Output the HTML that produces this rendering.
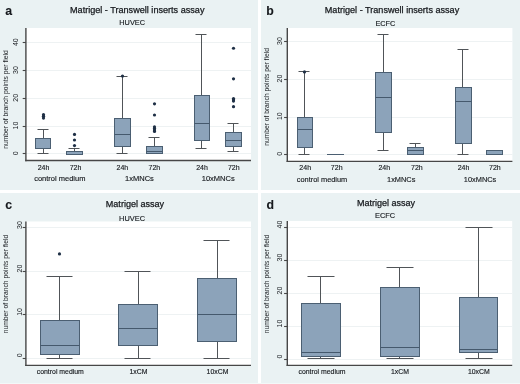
<!DOCTYPE html>
<html><head><meta charset="utf-8"><title>Matrigel assays</title>
<style>
html,body{margin:0;padding:0;background:#fff;}
body{width:520px;height:384px;overflow:hidden;}
svg{display:block;font-family:"Liberation Sans", sans-serif;will-change:transform;}
</style></head>
<body>
<svg width="520" height="384" viewBox="0 0 520 384">
<rect x="0" y="0" width="520" height="384" fill="#fff"/>
<rect x="0" y="0" width="258" height="190" fill="#EAF2F3"/>
<rect x="261" y="0" width="259" height="190" fill="#EAF2F3"/>
<rect x="0" y="193" width="258" height="191" fill="#EAF2F3"/>
<rect x="261" y="193" width="259" height="191" fill="#EAF2F3"/>
<rect x="0" y="383" width="520" height="1" fill="#F3F8F8"/>
<rect x="26" y="28" width="225" height="132.5" fill="#fff"/>
<line x1="26" x2="251" y1="153.5" y2="153.5" stroke="#EEF2F3" stroke-width="1"/>
<line x1="26" x2="251" y1="126.5" y2="126.5" stroke="#EEF2F3" stroke-width="1"/>
<line x1="26" x2="251" y1="98.5" y2="98.5" stroke="#EEF2F3" stroke-width="1"/>
<line x1="26" x2="251" y1="70.5" y2="70.5" stroke="#EEF2F3" stroke-width="1"/>
<line x1="26" x2="251" y1="42.5" y2="42.5" stroke="#EEF2F3" stroke-width="1"/>
<line x1="43.5" x2="43.5" y1="138.5" y2="129.5" stroke="#505458" stroke-width="1"/>
<line x1="37.5" x2="48.5" y1="129.5" y2="129.5" stroke="#505458" stroke-width="1"/>
<line x1="43.5" x2="43.5" y1="148.5" y2="153.5" stroke="#505458" stroke-width="1"/>
<line x1="37.5" x2="48.5" y1="153.5" y2="153.5" stroke="#505458" stroke-width="1"/>
<rect x="35.5" y="138.5" width="15.0" height="10.0" fill="#8CA3BA" stroke="#4B5F72" stroke-width="1"/>
<circle cx="43.5" cy="118.04" r="1.6" fill="#1E2F45"/>
<circle cx="43.5" cy="116.37" r="1.6" fill="#1E2F45"/>
<circle cx="43.5" cy="114.70" r="1.6" fill="#1E2F45"/>
<line x1="74.5" x2="74.5" y1="151.5" y2="148.5" stroke="#505458" stroke-width="1"/>
<line x1="68.5" x2="79.5" y1="148.5" y2="148.5" stroke="#505458" stroke-width="1"/>
<rect x="66.5" y="151.5" width="16.0" height="3.0" fill="#8CA3BA" stroke="#4B5F72" stroke-width="1"/>
<circle cx="74.5" cy="145.56" r="1.6" fill="#1E2F45"/>
<circle cx="74.5" cy="140.00" r="1.6" fill="#1E2F45"/>
<circle cx="74.5" cy="134.44" r="1.6" fill="#1E2F45"/>
<line x1="122.5" x2="122.5" y1="118.5" y2="76.5" stroke="#505458" stroke-width="1"/>
<line x1="116.5" x2="127.5" y1="76.5" y2="76.5" stroke="#505458" stroke-width="1"/>
<line x1="122.5" x2="122.5" y1="146.5" y2="153.5" stroke="#505458" stroke-width="1"/>
<line x1="116.5" x2="127.5" y1="153.5" y2="153.5" stroke="#505458" stroke-width="1"/>
<rect x="114.5" y="118.5" width="16.0" height="28.0" fill="#8CA3BA" stroke="#4B5F72" stroke-width="1"/>
<line x1="114.5" x2="130.5" y1="134.5" y2="134.5" stroke="#45596D" stroke-width="1"/>
<circle cx="122.5" cy="76.06" r="1.6" fill="#1E2F45"/>
<line x1="154.5" x2="154.5" y1="146.5" y2="137.5" stroke="#505458" stroke-width="1"/>
<line x1="148.5" x2="159.5" y1="137.5" y2="137.5" stroke="#505458" stroke-width="1"/>
<rect x="146.5" y="146.5" width="16.0" height="7.0" fill="#8CA3BA" stroke="#4B5F72" stroke-width="1"/>
<line x1="146.5" x2="162.5" y1="151.5" y2="151.5" stroke="#45596D" stroke-width="1"/>
<circle cx="154.5" cy="131.38" r="1.6" fill="#1E2F45"/>
<circle cx="154.5" cy="129.99" r="1.6" fill="#1E2F45"/>
<circle cx="154.5" cy="128.60" r="1.6" fill="#1E2F45"/>
<circle cx="154.5" cy="126.93" r="1.6" fill="#1E2F45"/>
<circle cx="154.5" cy="114.98" r="1.6" fill="#1E2F45"/>
<circle cx="154.5" cy="103.86" r="1.6" fill="#1E2F45"/>
<line x1="201.5" x2="201.5" y1="95.5" y2="34.5" stroke="#505458" stroke-width="1"/>
<line x1="195.5" x2="206.5" y1="34.5" y2="34.5" stroke="#505458" stroke-width="1"/>
<line x1="201.5" x2="201.5" y1="140.5" y2="148.5" stroke="#505458" stroke-width="1"/>
<line x1="195.5" x2="206.5" y1="148.5" y2="148.5" stroke="#505458" stroke-width="1"/>
<rect x="194.5" y="95.5" width="15.0" height="45.0" fill="#8CA3BA" stroke="#4B5F72" stroke-width="1"/>
<line x1="194.5" x2="209.5" y1="123.5" y2="123.5" stroke="#45596D" stroke-width="1"/>
<line x1="233.5" x2="233.5" y1="132.5" y2="123.5" stroke="#505458" stroke-width="1"/>
<line x1="227.5" x2="238.5" y1="123.5" y2="123.5" stroke="#505458" stroke-width="1"/>
<line x1="233.5" x2="233.5" y1="146.5" y2="151.5" stroke="#505458" stroke-width="1"/>
<line x1="227.5" x2="238.5" y1="151.5" y2="151.5" stroke="#505458" stroke-width="1"/>
<rect x="225.5" y="132.5" width="16.0" height="14.0" fill="#8CA3BA" stroke="#4B5F72" stroke-width="1"/>
<line x1="225.5" x2="241.5" y1="140.5" y2="140.5" stroke="#45596D" stroke-width="1"/>
<circle cx="233.5" cy="106.64" r="1.6" fill="#1E2F45"/>
<circle cx="233.5" cy="101.08" r="1.6" fill="#1E2F45"/>
<circle cx="233.5" cy="99.69" r="1.6" fill="#1E2F45"/>
<circle cx="233.5" cy="98.58" r="1.6" fill="#1E2F45"/>
<circle cx="233.5" cy="78.84" r="1.6" fill="#1E2F45"/>
<circle cx="233.5" cy="48.26" r="1.6" fill="#1E2F45"/>
<line x1="25.9" x2="25.9" y1="28" y2="161.2" stroke="#474747" stroke-width="1.4"/>
<line x1="25.2" x2="251" y1="160.5" y2="160.5" stroke="#474747" stroke-width="1.4"/>
<line x1="22.7" x2="25.9" y1="153.5" y2="153.5" stroke="#474747" stroke-width="1.1"/>
<text x="0" y="0" transform="translate(18,153.4) rotate(-90)" font-size="7" text-anchor="middle" font-weight="normal" fill="#16191d" stroke="#16191d" stroke-width="0.0" >0</text>
<line x1="22.7" x2="25.9" y1="126.5" y2="126.5" stroke="#474747" stroke-width="1.1"/>
<text x="0" y="0" transform="translate(18,125.60000000000001) rotate(-90)" font-size="7" text-anchor="middle" font-weight="normal" fill="#16191d" stroke="#16191d" stroke-width="0.0" >10</text>
<line x1="22.7" x2="25.9" y1="98.5" y2="98.5" stroke="#474747" stroke-width="1.1"/>
<text x="0" y="0" transform="translate(18,97.80000000000001) rotate(-90)" font-size="7" text-anchor="middle" font-weight="normal" fill="#16191d" stroke="#16191d" stroke-width="0.0" >20</text>
<line x1="22.7" x2="25.9" y1="70.5" y2="70.5" stroke="#474747" stroke-width="1.1"/>
<text x="0" y="0" transform="translate(18,70.00000000000001) rotate(-90)" font-size="7" text-anchor="middle" font-weight="normal" fill="#16191d" stroke="#16191d" stroke-width="0.0" >30</text>
<line x1="22.7" x2="25.9" y1="42.5" y2="42.5" stroke="#474747" stroke-width="1.1"/>
<text x="0" y="0" transform="translate(18,42.20000000000002) rotate(-90)" font-size="7" text-anchor="middle" font-weight="normal" fill="#16191d" stroke="#16191d" stroke-width="0.0" >40</text>
<text x="0" y="0" transform="translate(8,99.5) rotate(-90)" font-size="6.75" text-anchor="middle" font-weight="normal" fill="#16191d" stroke="#16191d" stroke-width="0.0" >number of branch points per field</text>
<text x="43.5" y="169.8" font-size="7" text-anchor="middle" font-weight="normal" fill="#16191d" stroke="#16191d" stroke-width="0.14" >24h</text>
<text x="75.5" y="169.8" font-size="7" text-anchor="middle" font-weight="normal" fill="#16191d" stroke="#16191d" stroke-width="0.14" >72h</text>
<text x="122.4" y="169.8" font-size="7" text-anchor="middle" font-weight="normal" fill="#16191d" stroke="#16191d" stroke-width="0.14" >24h</text>
<text x="154.4" y="169.8" font-size="7" text-anchor="middle" font-weight="normal" fill="#16191d" stroke="#16191d" stroke-width="0.14" >72h</text>
<text x="202" y="169.8" font-size="7" text-anchor="middle" font-weight="normal" fill="#16191d" stroke="#16191d" stroke-width="0.14" >24h</text>
<text x="233.8" y="169.8" font-size="7" text-anchor="middle" font-weight="normal" fill="#16191d" stroke="#16191d" stroke-width="0.14" >72h</text>
<text x="59.8" y="181" font-size="7.5" text-anchor="middle" font-weight="normal" fill="#16191d" stroke="#16191d" stroke-width="0.14" >control medium</text>
<text x="139.5" y="181" font-size="7.5" text-anchor="middle" font-weight="normal" fill="#16191d" stroke="#16191d" stroke-width="0.14" >1xMNCs</text>
<text x="218.2" y="181" font-size="7.5" text-anchor="middle" font-weight="normal" fill="#16191d" stroke="#16191d" stroke-width="0.14" >10xMNCs</text>
<text x="70" y="12.8" font-size="9.1" text-anchor="start" font-weight="normal" fill="#16191d" stroke="#16191d" stroke-width="0.25" >Matrigel - Transwell inserts assay</text>
<text x="119.3" y="25.1" font-size="7.35" text-anchor="start" font-weight="normal" fill="#16191d" stroke="#16191d" stroke-width="0.14" >HUVEC</text>
<text x="5.3" y="15.2" font-size="12.3" text-anchor="start" font-weight="bold" fill="#16191d" stroke="#16191d" stroke-width="0.1" >a</text>
<rect x="287" y="28" width="225.39999999999998" height="133.3" fill="#fff"/>
<line x1="287" x2="512.4" y1="154.5" y2="154.5" stroke="#EEF2F3" stroke-width="1"/>
<line x1="287" x2="512.4" y1="117.5" y2="117.5" stroke="#EEF2F3" stroke-width="1"/>
<line x1="287" x2="512.4" y1="79.5" y2="79.5" stroke="#EEF2F3" stroke-width="1"/>
<line x1="287" x2="512.4" y1="41.5" y2="41.5" stroke="#EEF2F3" stroke-width="1"/>
<line x1="304.5" x2="304.5" y1="117.5" y2="71.5" stroke="#505458" stroke-width="1"/>
<line x1="298.5" x2="309.5" y1="71.5" y2="71.5" stroke="#505458" stroke-width="1"/>
<line x1="304.5" x2="304.5" y1="147.5" y2="154.5" stroke="#505458" stroke-width="1"/>
<line x1="298.5" x2="309.5" y1="154.5" y2="154.5" stroke="#505458" stroke-width="1"/>
<rect x="297.5" y="117.5" width="15.0" height="30.0" fill="#8CA3BA" stroke="#4B5F72" stroke-width="1"/>
<line x1="297.5" x2="312.5" y1="129.5" y2="129.5" stroke="#45596D" stroke-width="1"/>
<circle cx="304.5" cy="71.95" r="1.6" fill="#1E2F45"/>
<line x1="327.0" x2="344.0" y1="154.5" y2="154.5" stroke="#4B5F72" stroke-width="1"/>
<line x1="383.5" x2="383.5" y1="72.5" y2="34.5" stroke="#505458" stroke-width="1"/>
<line x1="377.5" x2="388.5" y1="34.5" y2="34.5" stroke="#505458" stroke-width="1"/>
<line x1="383.5" x2="383.5" y1="132.5" y2="150.5" stroke="#505458" stroke-width="1"/>
<line x1="377.5" x2="388.5" y1="150.5" y2="150.5" stroke="#505458" stroke-width="1"/>
<rect x="375.5" y="72.5" width="16.0" height="60.0" fill="#8CA3BA" stroke="#4B5F72" stroke-width="1"/>
<line x1="375.5" x2="391.5" y1="97.5" y2="97.5" stroke="#45596D" stroke-width="1"/>
<line x1="415.5" x2="415.5" y1="147.5" y2="143.5" stroke="#505458" stroke-width="1"/>
<line x1="409.5" x2="420.5" y1="143.5" y2="143.5" stroke="#505458" stroke-width="1"/>
<rect x="407.5" y="147.5" width="16.0" height="7.0" fill="#8CA3BA" stroke="#4B5F72" stroke-width="1"/>
<line x1="407.5" x2="423.5" y1="150.5" y2="150.5" stroke="#45596D" stroke-width="1"/>
<line x1="462.5" x2="462.5" y1="87.5" y2="49.5" stroke="#505458" stroke-width="1"/>
<line x1="457.5" x2="468.5" y1="49.5" y2="49.5" stroke="#505458" stroke-width="1"/>
<line x1="462.5" x2="462.5" y1="143.5" y2="154.5" stroke="#505458" stroke-width="1"/>
<line x1="457.5" x2="468.5" y1="154.5" y2="154.5" stroke="#505458" stroke-width="1"/>
<rect x="455.5" y="87.5" width="16.0" height="56.0" fill="#8CA3BA" stroke="#4B5F72" stroke-width="1"/>
<line x1="455.5" x2="471.5" y1="101.5" y2="101.5" stroke="#45596D" stroke-width="1"/>
<rect x="486.5" y="150.5" width="16.0" height="4.0" fill="#8CA3BA" stroke="#4B5F72" stroke-width="1"/>
<line x1="287.3" x2="287.3" y1="28" y2="162.1" stroke="#474747" stroke-width="1.4"/>
<line x1="286.6" x2="512.4" y1="161.4" y2="161.4" stroke="#474747" stroke-width="1.4"/>
<line x1="284.1" x2="287.3" y1="154.5" y2="154.5" stroke="#474747" stroke-width="1.1"/>
<text x="0" y="0" transform="translate(281.8,153.7) rotate(-90)" font-size="7" text-anchor="middle" font-weight="normal" fill="#16191d" stroke="#16191d" stroke-width="0.0" >0</text>
<line x1="284.1" x2="287.3" y1="117.5" y2="117.5" stroke="#474747" stroke-width="1.1"/>
<text x="0" y="0" transform="translate(281.8,116.13) rotate(-90)" font-size="7" text-anchor="middle" font-weight="normal" fill="#16191d" stroke="#16191d" stroke-width="0.0" >10</text>
<line x1="284.1" x2="287.3" y1="79.5" y2="79.5" stroke="#474747" stroke-width="1.1"/>
<text x="0" y="0" transform="translate(281.8,78.55999999999999) rotate(-90)" font-size="7" text-anchor="middle" font-weight="normal" fill="#16191d" stroke="#16191d" stroke-width="0.0" >20</text>
<line x1="284.1" x2="287.3" y1="41.5" y2="41.5" stroke="#474747" stroke-width="1.1"/>
<text x="0" y="0" transform="translate(281.8,40.98999999999999) rotate(-90)" font-size="7" text-anchor="middle" font-weight="normal" fill="#16191d" stroke="#16191d" stroke-width="0.0" >30</text>
<text x="0" y="0" transform="translate(269.2,96.9) rotate(-90)" font-size="6.7" text-anchor="middle" font-weight="normal" fill="#16191d" stroke="#16191d" stroke-width="0.0" >number of branch points per field</text>
<text x="305.2" y="170.2" font-size="7" text-anchor="middle" font-weight="normal" fill="#16191d" stroke="#16191d" stroke-width="0.14" >24h</text>
<text x="336.7" y="170.2" font-size="7" text-anchor="middle" font-weight="normal" fill="#16191d" stroke="#16191d" stroke-width="0.14" >72h</text>
<text x="384.3" y="170.2" font-size="7" text-anchor="middle" font-weight="normal" fill="#16191d" stroke="#16191d" stroke-width="0.14" >24h</text>
<text x="416.9" y="170.2" font-size="7" text-anchor="middle" font-weight="normal" fill="#16191d" stroke="#16191d" stroke-width="0.14" >72h</text>
<text x="463.5" y="170.2" font-size="7" text-anchor="middle" font-weight="normal" fill="#16191d" stroke="#16191d" stroke-width="0.14" >24h</text>
<text x="494.9" y="170.2" font-size="7" text-anchor="middle" font-weight="normal" fill="#16191d" stroke="#16191d" stroke-width="0.14" >72h</text>
<text x="322" y="181.5" font-size="7.4" text-anchor="middle" font-weight="normal" fill="#16191d" stroke="#16191d" stroke-width="0.14" >control medium</text>
<text x="401.2" y="181.5" font-size="7.4" text-anchor="middle" font-weight="normal" fill="#16191d" stroke="#16191d" stroke-width="0.14" >1xMNCs</text>
<text x="480.1" y="181.5" font-size="7.4" text-anchor="middle" font-weight="normal" fill="#16191d" stroke="#16191d" stroke-width="0.14" >10xMNCs</text>
<text x="324.8" y="12.6" font-size="9.1" text-anchor="start" font-weight="normal" fill="#16191d" stroke="#16191d" stroke-width="0.25" >Matrigel - Transwell inserts assay</text>
<text x="375.4" y="25.5" font-size="7.35" text-anchor="start" font-weight="normal" fill="#16191d" stroke="#16191d" stroke-width="0.14" >ECFC</text>
<text x="266.3" y="15.2" font-size="12.3" text-anchor="start" font-weight="bold" fill="#16191d" stroke="#16191d" stroke-width="0.1" >b</text>
<rect x="26" y="221.5" width="225" height="143.5" fill="#fff"/>
<line x1="26" x2="251" y1="358.5" y2="358.5" stroke="#EEF2F3" stroke-width="1"/>
<line x1="26" x2="251" y1="314.5" y2="314.5" stroke="#EEF2F3" stroke-width="1"/>
<line x1="26" x2="251" y1="271.5" y2="271.5" stroke="#EEF2F3" stroke-width="1"/>
<line x1="26" x2="251" y1="227.5" y2="227.5" stroke="#EEF2F3" stroke-width="1"/>
<line x1="59.5" x2="59.5" y1="320.5" y2="276.5" stroke="#505458" stroke-width="1"/>
<line x1="46.5" x2="72.5" y1="276.5" y2="276.5" stroke="#505458" stroke-width="1"/>
<line x1="59.5" x2="59.5" y1="354.5" y2="358.5" stroke="#505458" stroke-width="1"/>
<line x1="46.5" x2="72.5" y1="358.5" y2="358.5" stroke="#505458" stroke-width="1"/>
<rect x="40.5" y="320.5" width="39.0" height="34.0" fill="#8CA3BA" stroke="#4B5F72" stroke-width="1"/>
<line x1="40.5" x2="79.5" y1="345.5" y2="345.5" stroke="#45596D" stroke-width="1"/>
<circle cx="59.5" cy="253.94" r="1.6" fill="#1E2F45"/>
<line x1="138.5" x2="138.5" y1="304.5" y2="271.5" stroke="#505458" stroke-width="1"/>
<line x1="124.5" x2="150.5" y1="271.5" y2="271.5" stroke="#505458" stroke-width="1"/>
<line x1="138.5" x2="138.5" y1="345.5" y2="358.5" stroke="#505458" stroke-width="1"/>
<line x1="124.5" x2="150.5" y1="358.5" y2="358.5" stroke="#505458" stroke-width="1"/>
<rect x="118.5" y="304.5" width="39.0" height="41.0" fill="#8CA3BA" stroke="#4B5F72" stroke-width="1"/>
<line x1="118.5" x2="157.5" y1="328.5" y2="328.5" stroke="#45596D" stroke-width="1"/>
<line x1="217.5" x2="217.5" y1="278.5" y2="240.5" stroke="#505458" stroke-width="1"/>
<line x1="203.5" x2="229.5" y1="240.5" y2="240.5" stroke="#505458" stroke-width="1"/>
<line x1="217.5" x2="217.5" y1="341.5" y2="358.5" stroke="#505458" stroke-width="1"/>
<line x1="203.5" x2="229.5" y1="358.5" y2="358.5" stroke="#505458" stroke-width="1"/>
<rect x="197.5" y="278.5" width="39.0" height="63.0" fill="#8CA3BA" stroke="#4B5F72" stroke-width="1"/>
<line x1="197.5" x2="236.5" y1="314.5" y2="314.5" stroke="#45596D" stroke-width="1"/>
<line x1="25.9" x2="25.9" y1="221.5" y2="366.09999999999997" stroke="#474747" stroke-width="1.4"/>
<line x1="25.2" x2="251" y1="365.4" y2="365.4" stroke="#474747" stroke-width="1.4"/>
<line x1="22.7" x2="25.9" y1="358.5" y2="358.5" stroke="#474747" stroke-width="1.1"/>
<text x="0" y="0" transform="translate(21.6,355.3) rotate(-90)" font-size="7" text-anchor="middle" font-weight="normal" fill="#16191d" stroke="#16191d" stroke-width="0.0" >0</text>
<line x1="22.7" x2="25.9" y1="314.5" y2="314.5" stroke="#474747" stroke-width="1.1"/>
<text x="0" y="0" transform="translate(21.6,311.90000000000003) rotate(-90)" font-size="7" text-anchor="middle" font-weight="normal" fill="#16191d" stroke="#16191d" stroke-width="0.0" >10</text>
<line x1="22.7" x2="25.9" y1="271.5" y2="271.5" stroke="#474747" stroke-width="1.1"/>
<text x="0" y="0" transform="translate(21.6,268.5) rotate(-90)" font-size="7" text-anchor="middle" font-weight="normal" fill="#16191d" stroke="#16191d" stroke-width="0.0" >20</text>
<line x1="22.7" x2="25.9" y1="227.5" y2="227.5" stroke="#474747" stroke-width="1.1"/>
<text x="0" y="0" transform="translate(21.6,225.10000000000002) rotate(-90)" font-size="7" text-anchor="middle" font-weight="normal" fill="#16191d" stroke="#16191d" stroke-width="0.0" >30</text>
<text x="0" y="0" transform="translate(8,284) rotate(-90)" font-size="6.75" text-anchor="middle" font-weight="normal" fill="#16191d" stroke="#16191d" stroke-width="0.0" >number of branch points per field</text>
<text x="60.3" y="374.3" font-size="6.9" text-anchor="middle" font-weight="normal" fill="#16191d" stroke="#16191d" stroke-width="0.14" >control medium</text>
<text x="138.5" y="374.3" font-size="6.9" text-anchor="middle" font-weight="normal" fill="#16191d" stroke="#16191d" stroke-width="0.14" >1xCM</text>
<text x="217.5" y="374.3" font-size="6.9" text-anchor="middle" font-weight="normal" fill="#16191d" stroke="#16191d" stroke-width="0.14" >10xCM</text>
<text x="105.8" y="207.2" font-size="9.05" text-anchor="start" font-weight="normal" fill="#16191d" stroke="#16191d" stroke-width="0.25" >Matrigel assay</text>
<text x="119.1" y="221.1" font-size="7.4" text-anchor="start" font-weight="normal" fill="#16191d" stroke="#16191d" stroke-width="0.14" >HUVEC</text>
<text x="5.3" y="208.8" font-size="12.3" text-anchor="start" font-weight="bold" fill="#16191d" stroke="#16191d" stroke-width="0.1" >c</text>
<rect x="287" y="221" width="225.20000000000005" height="144" fill="#fff"/>
<line x1="287" x2="512.2" y1="359.5" y2="359.5" stroke="#EEF2F3" stroke-width="1"/>
<line x1="287" x2="512.2" y1="326.5" y2="326.5" stroke="#EEF2F3" stroke-width="1"/>
<line x1="287" x2="512.2" y1="293.5" y2="293.5" stroke="#EEF2F3" stroke-width="1"/>
<line x1="287" x2="512.2" y1="260.5" y2="260.5" stroke="#EEF2F3" stroke-width="1"/>
<line x1="287" x2="512.2" y1="227.5" y2="227.5" stroke="#EEF2F3" stroke-width="1"/>
<line x1="320.5" x2="320.5" y1="303.5" y2="276.5" stroke="#505458" stroke-width="1"/>
<line x1="307.5" x2="334.5" y1="276.5" y2="276.5" stroke="#505458" stroke-width="1"/>
<line x1="320.5" x2="320.5" y1="356.5" y2="358.5" stroke="#505458" stroke-width="1"/>
<line x1="307.5" x2="334.5" y1="358.5" y2="358.5" stroke="#505458" stroke-width="1"/>
<rect x="301.5" y="303.5" width="39.0" height="53.0" fill="#8CA3BA" stroke="#4B5F72" stroke-width="1"/>
<line x1="301.5" x2="340.5" y1="352.5" y2="352.5" stroke="#45596D" stroke-width="1"/>
<line x1="399.5" x2="399.5" y1="287.5" y2="267.5" stroke="#505458" stroke-width="1"/>
<line x1="386.5" x2="413.5" y1="267.5" y2="267.5" stroke="#505458" stroke-width="1"/>
<line x1="399.5" x2="399.5" y1="356.5" y2="358.5" stroke="#505458" stroke-width="1"/>
<line x1="386.5" x2="413.5" y1="358.5" y2="358.5" stroke="#505458" stroke-width="1"/>
<rect x="380.5" y="287.5" width="39.0" height="69.0" fill="#8CA3BA" stroke="#4B5F72" stroke-width="1"/>
<line x1="380.5" x2="419.5" y1="347.5" y2="347.5" stroke="#45596D" stroke-width="1"/>
<line x1="478.5" x2="478.5" y1="297.5" y2="227.5" stroke="#505458" stroke-width="1"/>
<line x1="465.5" x2="492.5" y1="227.5" y2="227.5" stroke="#505458" stroke-width="1"/>
<line x1="478.5" x2="478.5" y1="352.5" y2="358.5" stroke="#505458" stroke-width="1"/>
<line x1="465.5" x2="492.5" y1="358.5" y2="358.5" stroke="#505458" stroke-width="1"/>
<rect x="459.5" y="297.5" width="38.0" height="55.0" fill="#8CA3BA" stroke="#4B5F72" stroke-width="1"/>
<line x1="459.5" x2="497.5" y1="349.5" y2="349.5" stroke="#45596D" stroke-width="1"/>
<line x1="287.3" x2="287.3" y1="221" y2="366.09999999999997" stroke="#474747" stroke-width="1.4"/>
<line x1="286.6" x2="512.2" y1="365.4" y2="365.4" stroke="#474747" stroke-width="1.4"/>
<line x1="284.1" x2="287.3" y1="359.5" y2="359.5" stroke="#474747" stroke-width="1.1"/>
<text x="0" y="0" transform="translate(281.8,356.59999999999997) rotate(-90)" font-size="7" text-anchor="middle" font-weight="normal" fill="#16191d" stroke="#16191d" stroke-width="0.0" >0</text>
<line x1="284.1" x2="287.3" y1="326.5" y2="326.5" stroke="#474747" stroke-width="1.1"/>
<text x="0" y="0" transform="translate(281.8,323.59999999999997) rotate(-90)" font-size="7" text-anchor="middle" font-weight="normal" fill="#16191d" stroke="#16191d" stroke-width="0.0" >10</text>
<line x1="284.1" x2="287.3" y1="293.5" y2="293.5" stroke="#474747" stroke-width="1.1"/>
<text x="0" y="0" transform="translate(281.8,290.59999999999997) rotate(-90)" font-size="7" text-anchor="middle" font-weight="normal" fill="#16191d" stroke="#16191d" stroke-width="0.0" >20</text>
<line x1="284.1" x2="287.3" y1="260.5" y2="260.5" stroke="#474747" stroke-width="1.1"/>
<text x="0" y="0" transform="translate(281.8,257.59999999999997) rotate(-90)" font-size="7" text-anchor="middle" font-weight="normal" fill="#16191d" stroke="#16191d" stroke-width="0.0" >30</text>
<line x1="284.1" x2="287.3" y1="227.5" y2="227.5" stroke="#474747" stroke-width="1.1"/>
<text x="0" y="0" transform="translate(281.8,224.59999999999997) rotate(-90)" font-size="7" text-anchor="middle" font-weight="normal" fill="#16191d" stroke="#16191d" stroke-width="0.0" >40</text>
<text x="0" y="0" transform="translate(269.2,284) rotate(-90)" font-size="6.75" text-anchor="middle" font-weight="normal" fill="#16191d" stroke="#16191d" stroke-width="0.0" >number of branch points per field</text>
<text x="322" y="374.3" font-size="6.9" text-anchor="middle" font-weight="normal" fill="#16191d" stroke="#16191d" stroke-width="0.14" >control medium</text>
<text x="400" y="374.3" font-size="6.9" text-anchor="middle" font-weight="normal" fill="#16191d" stroke="#16191d" stroke-width="0.14" >1xCM</text>
<text x="478.8" y="374.3" font-size="6.9" text-anchor="middle" font-weight="normal" fill="#16191d" stroke="#16191d" stroke-width="0.14" >10xCM</text>
<text x="357" y="205.8" font-size="9.0" text-anchor="start" font-weight="normal" fill="#16191d" stroke="#16191d" stroke-width="0.25" >Matrigel assay</text>
<text x="375" y="217.8" font-size="7.4" text-anchor="start" font-weight="normal" fill="#16191d" stroke="#16191d" stroke-width="0.14" >ECFC</text>
<text x="266.5" y="208.8" font-size="12.3" text-anchor="start" font-weight="bold" fill="#16191d" stroke="#16191d" stroke-width="0.1" >d</text>
</svg>
</body></html>
